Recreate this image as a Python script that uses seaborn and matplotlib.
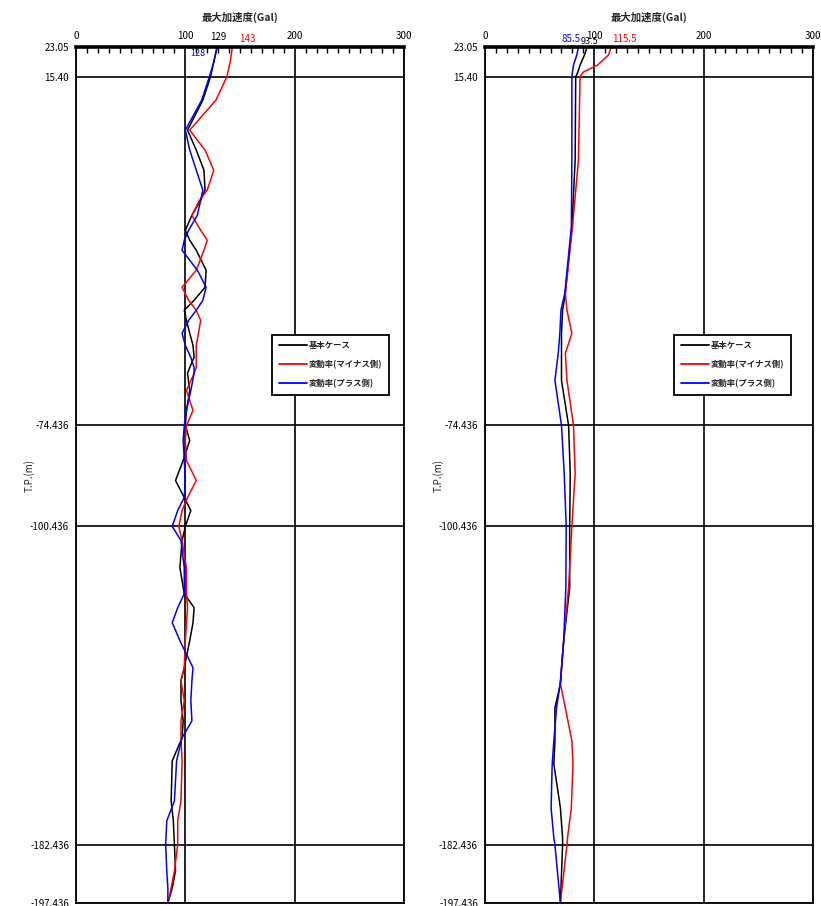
import numpy as np
import pandas as pd
import matplotlib.pyplot as plt
import seaborn as sns
from matplotlib.ticker import MultipleLocator
from matplotlib.lines import Line2D

# --- data ---
cases = ['基本ケース', '変動率(マイナス側)', '変動率(プラス側)']
colors = ['black', 'red', 'blue']

y_ticks = [23.05, 15.40, -74.436, -100.436, -182.436, -197.436]
x_ticks = [0, 100, 200, 300]

left_depth = [23.05, 19.18, 15.40, 9.38, 1.65, -3.51, -8.67, -13.83, -16.40, -20.27,
              -24.14, -26.72, -29.30, -34.45, -38.84, -42.19, -44.77, -47.35, -50.70, -53.80,
              -56.89, -59.47, -61.02, -65.40, -70.56, -74.436, -78.29, -83.45, -88.61, -92.99,
              -96.34, -100.436, -104.08, -111.04, -117.75, -121.36, -125.23, -129.87, -136.83, -140.18,
              -145.34, -150.50, -154.88, -160.81, -171.13, -176.28, -182.436, -189.18, -193.56, -197.436]
left_base = [129, 126, 123, 116, 102, 110, 117, 118, 114, 106,
             100, 104, 110, 119, 118, 108, 99, 101, 104, 107,
             108, 104, 102, 104, 101, 100, 104, 98, 91, 99,
             105, 100, 97, 95, 99, 108, 107, 104, 99, 96,
             96, 98, 97, 88, 87, 89, 90, 91, 88, 84]
left_minus = [143, 141, 138, 128, 104, 118, 126, 120, 113, 106,
              114, 120, 117, 110, 97, 103, 110, 114, 112, 110,
              110, 110, 108, 101, 107, 101, 100, 101, 110, 102,
              97, 94, 97, 101, 101, 102, 101, 100, 99, 96,
              99, 96, 96, 97, 96, 93, 93, 90, 87, 84]
left_plus = [129, 126, 122, 115, 100, 104, 110, 116, 114, 111,
             103, 99, 97, 111, 119, 116, 110, 103, 97, 100,
             105, 108, 108, 105, 101, 99, 98, 99, 100, 99,
             93, 88, 96, 99, 99, 93, 88, 95, 107, 106,
             105, 106, 97, 92, 90, 83, 82, 83, 84, 84]
left_labels = ['129', '143', '128']

right_depth = [23.05, 20.99, 18.41, 16.60, 15.40, -6.09, -23.37, -40.39, -44.77, -50.70,
               -55.86, -62.82, -74.436, -86.80, -100.436, -116.20, -129.87, -140.96, -147.14, -155.65,
               -161.58, -172.93, -180.67, -182.436, -197.436]
right_base = [93.5, 91, 87, 85, 83, 82.5, 79.5, 73.5, 71, 70,
              70, 70, 76.5, 78, 77.5, 77.5, 72, 69, 64, 64,
              63, 69, 71, 71, 69]
right_minus = [115.5, 113, 103, 90, 87, 85.5, 80, 73.5, 75, 79.5,
               73.5, 75, 81, 82.5, 79.5, 76.5, 72, 69, 73.5, 79.5,
               80.5, 79, 75.5, 75, 69]
right_plus = [85.5, 84, 81, 80, 79.5, 79.5, 79, 73, 69.5, 68.5,
              67, 64, 70, 72.5, 74.3, 74, 72, 68.8, 65.5, 63,
              61.5, 60.5, 63, 64, 69]
right_labels = ['85.5', '93.5', '115.5']

sns.set_theme(style='white')
plt.rcParams['font.family'] = ['Noto Sans CJK JP', 'DejaVu Sans']

fig = plt.figure(figsize=(8.21, 9.06), dpi=100)
ax_l = fig.add_axes([0.0926, 0.0033, 0.3995, 0.9448])
ax_r = fig.add_axes([0.5907, 0.0033, 0.3995, 0.9448])


def draw_panel(ax, depth, series, labels, legend_x):
    rows = []
    for name, vals in zip(cases, series):
        for d, v in zip(depth, vals):
            rows.append({'depth': d, 'acc': v, 'case': name})
    df = pd.DataFrame(rows)
    sns.lineplot(data=df, x='acc', y='depth', hue='case', palette=dict(zip(cases, colors)),
                 sort=False, estimator=None, lw=1.1, ax=ax, legend=False)

    ax.set_xlim(0, 300)
    ax.set_ylim(y_ticks[-1], y_ticks[0])
    ax.set_xticks(x_ticks)
    ax.xaxis.set_minor_locator(MultipleLocator(10))
    ax.xaxis.tick_top()
    ax.tick_params(axis='x', which='major', length=0, pad=4, labelsize=7, colors='black')
    ax.tick_params(axis='x', which='minor', direction='in', length=4, width=1, top=True, bottom=False, color='black')
    ax.set_yticks(y_ticks)
    ax.set_yticklabels([f'{t:.2f}' if t > 0 else f'{t:.3f}' for t in y_ticks])
    ax.tick_params(axis='y', length=0, pad=5, labelsize=7, colors='black')
    ax.grid(True, which='major', color='black', lw=1.2)
    ax.set_xlabel('')
    ax.set_ylabel('T.P.(m)', fontsize=7)
    ax.yaxis.set_label_coords(-0.125, 0.5)
    for s in ax.spines.values():
        s.set_color('black')
        s.set_linewidth(1.3)
    ax.spines['top'].set_linewidth(2.6)

    ax.text(0.5, 1.035, '最大加速度(Gal)', transform=ax.transAxes, ha='center', va='center',
            fontsize=7.5, fontweight='bold')

    top = y_ticks[0]
    return df


draw_panel(ax_l, left_depth, [left_base, left_minus, left_plus], left_labels, 0.585)
draw_panel(ax_r, right_depth, [right_base, right_minus, right_plus], right_labels, 0.564)

# value labels at the surface
top = y_ticks[0]
ax_l.text(left_base[0] + 1, top + 1.2, left_labels[0], color='black', ha='center', va='bottom', fontsize=7, clip_on=False)
ax_l.text(left_minus[0] + 6, top + 0.8, left_labels[1], color='red', ha='left', va='bottom', fontsize=7, clip_on=False)
ax_l.text(left_plus[0] - 11, top - 0.6, left_labels[2], color='blue', ha='right', va='top', fontsize=6.5, clip_on=False)
ax_r.text(right_plus[0] + 1.5, top + 0.8, right_labels[0], color='blue', ha='right', va='bottom', fontsize=7, clip_on=False)
ax_r.text(right_base[0] + 2.5, top + 0.2, right_labels[1], color='black', ha='center', va='bottom', fontsize=6.5, clip_on=False)
ax_r.text(right_minus[0] + 1, top + 0.8, right_labels[2], color='red', ha='left', va='bottom', fontsize=7, clip_on=False)

handles = [Line2D([0], [0], color=c, lw=1.3) for c in colors]
for ax, lx in [(ax_l, 0.585), (ax_r, 0.564)]:
    leg = ax.legend(handles, cases, loc='upper left', bbox_to_anchor=(lx, 0.669), fontsize=6,
                    frameon=True, fancybox=False, handlelength=3.4, handletextpad=0.2,
                    labelspacing=1.2, borderpad=0.8, framealpha=1)
    leg.get_frame().set_edgecolor('black')
    leg.get_frame().set_linewidth(1.3)
    for t in leg.get_texts():
        t.set_fontweight('bold')

fig.savefig('out.png', dpi=100)
